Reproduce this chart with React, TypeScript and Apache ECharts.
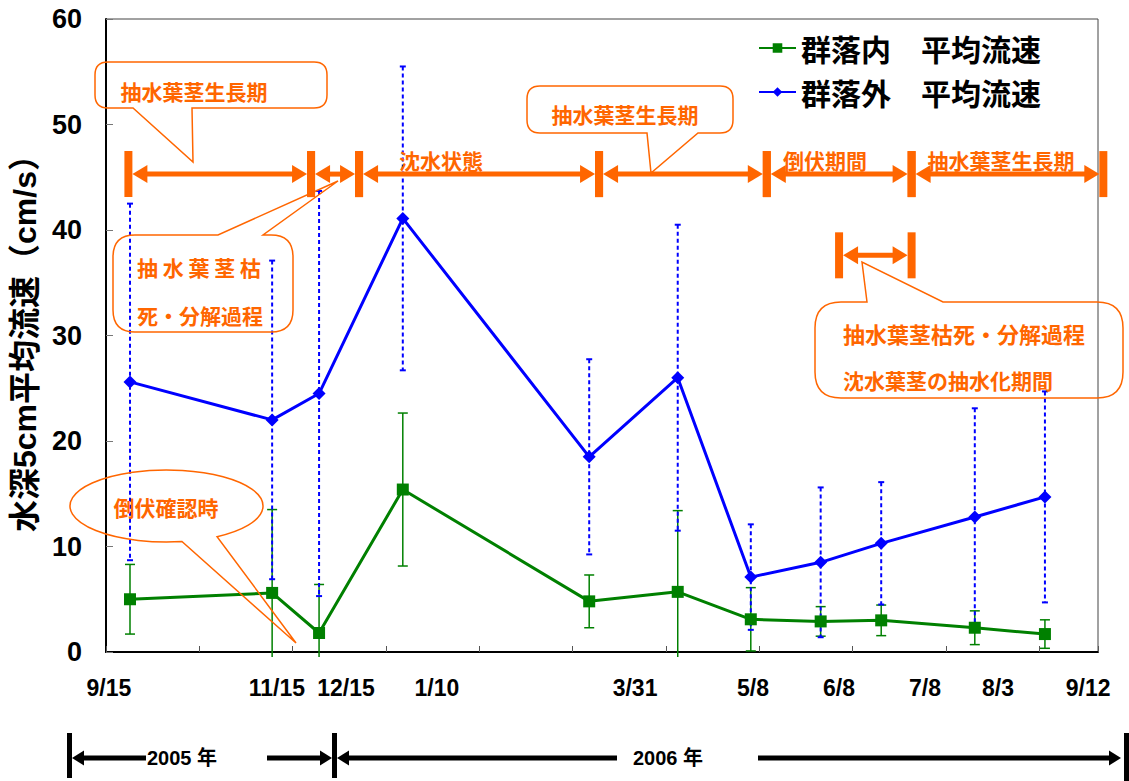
import React, { useEffect, useRef } from "react";
import * as echarts from "echarts";

// ---- data ---------------------------------------------------------------
// x positions are in days along the survey year axis (axis spans 0..372)
const sampleDays = [9.0, 62.3, 79.9, 111.3, 181.2, 214.4, 241.8, 268.0, 290.7, 325.8, 352.1];

const insideMean = [5.0, 5.6, 1.8, 15.4, 4.8, 5.7, 3.1, 2.9, 3.0, 2.3, 1.7];
const insideSD = [3.3, 7.9, 4.6, 7.25, 2.5, 7.7, 3.0, 1.4, 1.45, 1.6, 1.35];

const outsideMean = [25.6, 22.0, 24.5, 41.1, 18.5, 26.0, 7.1, 8.5, 10.3, 12.8, 14.7];
const outsideSD = [16.9, 15.1, 19.2, 14.4, 9.25, 14.5, 5.0, 7.1, 5.8, 10.3, 10.0];

const dateLabels = ["9/15", "11/15", "12/15", "1/10", "3/31", "5/8", "6/8", "7/8", "8/3", "9/12"];
const dateLabelDays = [1.1, 64.1, 90.0, 124.1, 198.4, 242.6, 274.9, 307.1, 334.5, 368.3];

const yTicks = [0, 60, 10]; // min, max, step

// growth-stage periods drawn as bracket arrows
const periodBounds = [8.4, 76.9, 94.9, 184.9, 247.8, 302.1, 374.0];
const periodLevel = 45.3;
const dieBackSpan = [274.9, 302.1];
const dieBackLevel = 37.6;

const seriesNames = ["群落内　平均流速", "群落外　平均流速"];
const yTitle = "水深5cm平均流速（cm/s）";

// ---- styles -------------------------------------------------------------
const ORANGE = "#FF6600";
const GREEN = "#008000";
const BLUE = "#0000FF";
const CJK = "'Noto Sans CJK JP', sans-serif";
const LATIN = "'Liberation Sans', Arial, 'Noto Sans CJK JP', sans-serif";

function errorBarRenderer(color: string, dashed: boolean, capW: number, lw: number) {
  return (params: any, api: any) => {
    const x = api.value(0);
    const m = api.value(1);
    const sd = api.value(2);
    const top = api.coord([x, m + sd]);
    const bot = api.coord([x, m - sd]);
    const cs = params.coordSys;
    const limit = cs.y + cs.height + 5;
    const clipped = bot[1] > limit;
    const yb = clipped ? limit : bot[1];
    const style: any = { stroke: color, lineWidth: lw, lineDash: dashed ? [4, 3] : null };
    const capStyle: any = { stroke: color, lineWidth: lw };
    const children: any[] = [
      { type: "line", shape: { x1: top[0], y1: top[1], x2: top[0], y2: yb }, style },
      { type: "line", shape: { x1: top[0] - capW / 2, y1: top[1], x2: top[0] + capW / 2, y2: top[1] }, style: capStyle },
    ];
    if (!clipped) {
      children.push({
        type: "line",
        shape: { x1: bot[0] - capW / 2, y1: bot[1], x2: bot[0] + capW / 2, y2: bot[1] },
        style: capStyle,
      });
    }
    return { type: "group", children };
  };
}

function renderSpan(_params: any, api: any) {
  const a = api.coord([api.value(0), api.value(2)]);
  const b = api.coord([api.value(1), api.value(2)]);
  const y = a[1];
  const BAR_W = 8, BAR_H = 23, HEAD_L = 15, HEAD_H = 9, LINE_W = 5;
  const l = a[0] + BAR_W / 2;
  const r = b[0] - BAR_W / 2;
  const st = { fill: ORANGE };
  return {
    type: "group",
    children: [
      { type: "line", shape: { x1: l + HEAD_L - 1, y1: y, x2: r - HEAD_L + 1, y2: y }, style: { stroke: ORANGE, lineWidth: LINE_W } },
      { type: "polygon", shape: { points: [[l, y], [l + HEAD_L, y - HEAD_H], [l + HEAD_L, y + HEAD_H]] }, style: st },
      { type: "polygon", shape: { points: [[r, y], [r - HEAD_L, y - HEAD_H], [r - HEAD_L, y + HEAD_H]] }, style: st },
      { type: "rect", shape: { x: a[0] - BAR_W / 2, y: y - BAR_H, width: BAR_W, height: BAR_H * 2 }, style: st },
      { type: "rect", shape: { x: b[0] - BAR_W / 2, y: y - BAR_H, width: BAR_W, height: BAR_H * 2 }, style: st },
    ],
  };
}

// rounded box with a pointer tail on its top or bottom edge
function boxCalloutPath(
  x: number, y: number, w: number, h: number, r: number,
  side: "top" | "bottom", a: number, b: number, tx: number, ty: number
) {
  const R = x + w;
  const B = y + h;
  let d = `M ${x + r} ${y}`;
  if (side === "top") d += ` L ${a} ${y} L ${tx} ${ty} L ${b} ${y}`;
  d += ` L ${R - r} ${y} Q ${R} ${y} ${R} ${y + r} L ${R} ${B - r} Q ${R} ${B} ${R - r} ${B}`;
  if (side === "bottom") d += ` L ${b} ${B} L ${tx} ${ty} L ${a} ${B}`;
  d += ` L ${x + r} ${B} Q ${x} ${B} ${x} ${B - r} L ${x} ${y + r} Q ${x} ${y} ${x + r} ${y} Z`;
  return d;
}

function ellipseCalloutPath(
  cx: number, cy: number, rx: number, ry: number,
  t1: number, t2: number, tx: number, ty: number
) {
  const p = (t: number) => [cx + rx * Math.cos((t * Math.PI) / 180), cy + ry * Math.sin((t * Math.PI) / 180)];
  const s = p(t1);
  const e = p(t2);
  return `M ${s[0]} ${s[1]} A ${rx} ${ry} 0 1 1 ${e[0]} ${e[1]} L ${tx} ${ty} Z`;
}

function registerCallouts() {
  const shapes: [string, string][] = [
    ["calloutGrowthA", boxCalloutPath(95, 62, 232, 46, 13, "bottom", 133, 192, 193, 162)],
    ["calloutDecayA", boxCalloutPath(113, 235, 180, 97, 22, "top", 218, 263, 338, 181)],
    ["calloutGrowthB", boxCalloutPath(527, 86, 206, 47, 13, "bottom", 647, 698, 651, 173)],
    ["calloutDecayB", boxCalloutPath(815, 302, 308, 96, 26, "top", 867, 943, 862, 262)],
    ["calloutLodging", ellipseCalloutPath(166.5, 506, 96.5, 36, 80.8, 58.4, 296, 643)],
  ];
  shapes.forEach(([name, d]) => {
    echarts.graphic.registerShape(name, echarts.graphic.extendPath(d, {}) as any);
  });
}

const orangeText = (text: string, x: number, y: number, align = "center", size = 21) => ({
  type: "text",
  x,
  y,
  z: 110,
  style: {
    text,
    fill: ORANGE,
    fontSize: size,
    fontWeight: "bold",
    fontFamily: CJK,
    align,
    verticalAlign: "middle",
  },
});

const calloutShape = (type: string) => ({
  type,
  z: 105,
  style: { fill: "none", stroke: ORANGE, lineWidth: 1.5 },
});

const black = { fill: "#000" };
const yearText = (text: string, x: number) => ({
  type: "text",
  x,
  y: 758,
  z: 110,
  style: {
    text,
    fill: "#000",
    fontSize: 20,
    fontWeight: "bold",
    fontFamily: LATIN,
    align: "left",
    verticalAlign: "middle",
  },
});
const hLine = (x1: number, x2: number) => ({
  type: "line",
  z: 110,
  shape: { x1, y1: 758, x2, y2: 758 },
  style: { stroke: "#000", lineWidth: 5 },
});
const head = (tip: number, dir: number) => ({
  type: "polygon",
  z: 110,
  shape: { points: [[tip, 758], [tip + dir * 12, 750.5], [tip + dir * 12, 765.5]] },
  style: black,
});
const vBar = (x: number, h = 45) => ({
  type: "rect",
  z: 110,
  shape: { x, y: 733, width: 5, height: h },
  style: black,
});

export default function App() {
  const ref = useRef<HTMLDivElement>(null);

  useEffect(() => {
    document.body.style.margin = "0";
    registerCallouts();
    const chart = echarts.init(ref.current!, null, { renderer: "svg" });

    const periodSegments = periodBounds
      .slice(0, -1)
      .map((b, i) => [b, periodBounds[i + 1], periodLevel]);
    const spans = [...periodSegments, [dieBackSpan[0], dieBackSpan[1], dieBackLevel]];

    const option: any = {
      animation: false,
      backgroundColor: "#fff",
      grid: {
        left: 106,
        right: 31,
        top: 19,
        bottom: 129,
        show: true,
        borderColor: "#444",
        borderWidth: 1,
        outerBoundsMode: "none",
      },
      legend: {
        left: 753,
        top: 28,
        orient: "vertical",
        itemGap: 14,
        itemWidth: 37,
        itemHeight: 12,
        data: seriesNames,
        textStyle: { fontSize: 30, fontWeight: "bold", fontFamily: CJK, color: "#000" },
      },
      xAxis: {
        type: "value",
        min: 0,
        max: 372,
        interval: 35,
        axisLine: { onZero: false, lineStyle: { color: "#000", width: 2 } },
        axisTick: { show: true, inside: true, length: 6, lineStyle: { color: "#555" } },
        axisLabel: {
          customValues: dateLabelDays,
          formatter: (v: number) => {
            const i = dateLabelDays.indexOf(v);
            return i >= 0 ? dateLabels[i] : "";
          },
          fontSize: 23,
          fontWeight: "bold",
          fontFamily: LATIN,
          color: "#000",
          margin: 24,
        },
        splitLine: { show: false },
      },
      yAxis: {
        type: "value",
        min: yTicks[0],
        max: yTicks[1],
        interval: yTicks[2],
        name: yTitle,
        nameLocation: "middle",
        nameGap: 63,
        nameTextStyle: { fontSize: 32, fontWeight: "bold", fontFamily: LATIN, color: "#000" },
        axisLine: { show: true, lineStyle: { color: "#000", width: 2 } },
        axisTick: { show: true, inside: true, length: 7, lineStyle: { color: "#777" } },
        axisLabel: { fontSize: 27, fontWeight: "bold", fontFamily: LATIN, color: "#000", margin: 24 },
        splitLine: { show: false },
      },
      series: [
        {
          type: "custom",
          name: "insideError",
          renderItem: errorBarRenderer(GREEN, false, 10, 1.5),
          data: sampleDays.map((d, i) => [d, insideMean[i], insideSD[i]]),
          encode: { x: 0, y: 1 },
          clip: false,
          z: 2,
        },
        {
          type: "custom",
          name: "outsideError",
          renderItem: errorBarRenderer(BLUE, true, 6, 2),
          data: sampleDays.map((d, i) => [d, outsideMean[i], outsideSD[i]]),
          encode: { x: 0, y: 1 },
          clip: false,
          z: 2,
        },
        {
          type: "line",
          name: seriesNames[0],
          data: sampleDays.map((d, i) => [d, insideMean[i]]),
          symbol: "rect",
          symbolSize: 12,
          itemStyle: { color: GREEN },
          lineStyle: { color: GREEN, width: 3 },
          z: 3,
        },
        {
          type: "line",
          name: seriesNames[1],
          data: sampleDays.map((d, i) => [d, outsideMean[i]]),
          symbol: "diamond",
          symbolSize: 13,
          itemStyle: { color: BLUE },
          lineStyle: { color: BLUE, width: 3 },
          z: 4,
        },
        {
          type: "custom",
          name: "periods",
          renderItem: renderSpan,
          data: spans,
          encode: { x: [0, 1], y: 2 },
          clip: false,
          z: 10,
        },
      ],
      graphic: [
        // period names above the bracket arrows
        orangeText("沈水状態", 441, 160),
        orangeText("倒伏期間", 825, 160),
        orangeText("抽水葉茎生長期", 1001, 160),
        // callouts
        calloutShape("calloutGrowthA"),
        orangeText("抽水葉茎生長期", 194, 91),
        calloutShape("calloutDecayA"),
        orangeText("抽 水 葉 茎 枯", 137, 267, "left"),
        orangeText("死・分解過程", 137, 315, "left"),
        calloutShape("calloutGrowthB"),
        orangeText("抽水葉茎生長期", 625, 114),
        calloutShape("calloutDecayB"),
        orangeText("抽水葉茎枯死・分解過程", 843, 333, "left", 22),
        orangeText("沈水葉茎の抽水化期間", 843, 380, "left"),
        calloutShape("calloutLodging"),
        orangeText("倒伏確認時", 166, 507),
        // year spans under the date axis
        vBar(67),
        head(72, 1),
        hLine(82, 146),
        yearText("2005 年", 147),
        hLine(267, 324),
        head(332, -1),
        vBar(332),
        head(337, 1),
        hLine(347, 617),
        yearText("2006 年", 633),
        hLine(758, 1110),
        head(1121, -1),
        vBar(1124, 48),
      ],
    };

    chart.setOption(option);
    return () => chart.dispose();
  }, []);

  return <div ref={ref} style={{ width: 1129, height: 781 }} />;
}
